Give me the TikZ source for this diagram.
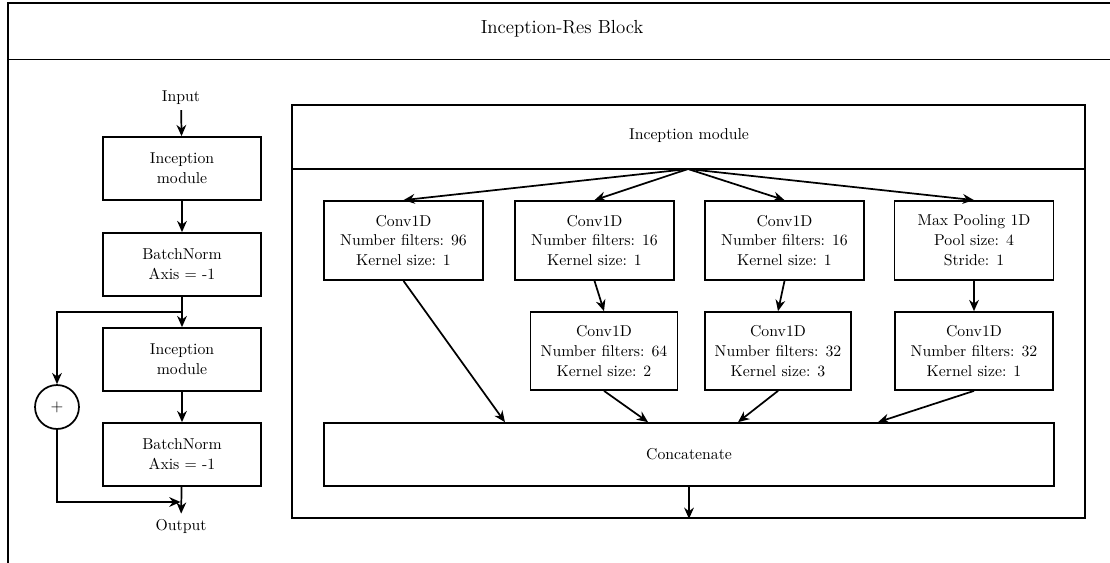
\documentclass[tikz,border=0pt]{standalone}
\usetikzlibrary{arrows.meta}
\begin{document}
\begin{tikzpicture}[x=0.6667pt,y=-0.6667pt,
  every node/.style={font=\fontsize{10.5}{13.3}\selectfont},
  ln/.style={line width=1.15pt},
  box/.style={draw,ln,align=center,inner sep=0pt},
  lbox/.style={box,minimum width=105.3pt,minimum height=42pt},
  cbox/.style={box,minimum width=106pt,minimum height=52.7pt},
  arr/.style={ln,-{Stealth[length=7.5pt,width=6.5pt]}}]
\useasboundingbox (0,0) rectangle (1110,562);
\clip (0,0) rectangle (1110,562);
% outer frame (clipped on right and bottom)
\draw[ln] (8,3) rectangle (1140,620);
\draw[ln] (8,59.5) -- (1140,59.5);
\node[font=\fontsize{12.6}{15}\selectfont] (title) at (562,29) {Inception-Res Block};

% left column
\node (input) at (181,98) {Input};
\node[lbox] (im1) at (182,168.5) {Inception\\module};
\node[lbox] (bn1) at (182,264.5) {BatchNorm\\Axis = -1};
\node[lbox] (im2) at (182,359.5) {Inception\\module};
\node[lbox] (bn2) at (182,454.5) {BatchNorm\\Axis = -1};
\node (output) at (181,526) {Output};
\node[draw,ln,circle,minimum size=29.3pt,inner sep=0pt] (plus) at (57,407) {$+$};
\coordinate (split) at (182,312);
\coordinate (join) at (182,502);

\draw[arr] (input) -- (im1);
\draw[arr] (im1) -- (bn1);
\draw[arr] (bn1) -- (im2);
\draw[arr] (im2) -- (bn2);
\draw[arr] (bn2) -- (output);
\draw[arr] (split) -| (plus.north);
\draw[arr] (plus.south) |- ([xshift=-1pt]join);

% inception module
\node[draw,ln,minimum width=528.7pt,minimum height=275.3pt,inner sep=0pt] (incmod) at (688.5,311.5) {};
\draw[ln] (incmod.west |- 0,169) -- (incmod.east |- 0,169);
\node (inctitle) at (689,136) {Inception module};
\coordinate (fan) at (688,169);

\node[cbox] (c1) at (403.5,240.5) {Conv1D\\Number filters: 96\\Kernel size: 1};
\node[cbox] (c2) at (594.5,240.5) {Conv1D\\Number filters: 16\\Kernel size: 1};
\node[cbox] (c3) at (784.5,240.5) {Conv1D\\Number filters: 16\\Kernel size: 1};
\node[cbox] (mp) at (974,240.5) {Max Pooling 1D\\Pool size: 4\\Stride: 1};

\node[box,minimum width=98pt,minimum height=52pt] (c2b) at (604,351) {Conv1D\\Number filters: 64\\Kernel size: 2};
\node[box,minimum width=97.3pt,minimum height=52pt] (c3b) at (778,351) {Conv1D\\Number filters: 32\\Kernel size: 3};
\node[box,minimum width=105.3pt,minimum height=52pt] (mpb) at (974,351) {Conv1D\\Number filters: 32\\Kernel size: 1};

\node[box,minimum width=486.7pt,minimum height=42pt] (cat) at (689,454.5) {Concatenate};

\draw[arr] (fan) -- (c1.north);
\draw[arr] (fan) -- (c2.north);
\draw[arr] (fan) -- (c3.north);
\draw[arr] (fan) -- (mp.north);
\draw[arr] (c2.south) -- (c2b.north);
\draw[arr] (c3.south) -- (c3b.north);
\draw[arr] (mp.south) -- (mpb.north);
\draw[arr] (c1.south) -- ([xshift=-122.7pt]cat.north);
\draw[arr] (c2b.south) -- ([xshift=-27.3pt]cat.north);
\draw[arr] (c3b.south) -- ([xshift=32.7pt]cat.north);
\draw[arr] (mpb.south) -- ([xshift=126pt]cat.north);
\draw[arr] (cat.south) -- (cat.south |- incmod.south);
\end{tikzpicture}
\end{document}
